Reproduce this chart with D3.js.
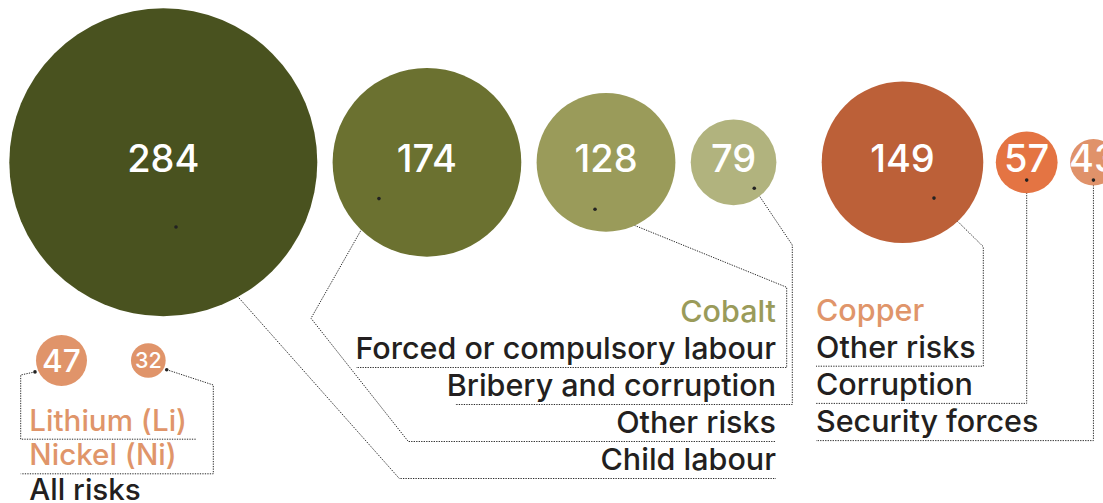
<!DOCTYPE html>
<html>
<head>
<meta charset="utf-8">
<script src="https://cdn.jsdelivr.net/npm/d3@7/dist/d3.min.js"></script>
<style>
  html, body { margin: 0; padding: 0; background: #fff; overflow: hidden; }
  svg { display: block; }
  text { font-family: Inter, "Noto Sans", sans-serif; }
</style>
</head>
<body>
<svg id="chart" width="1103" height="503"></svg>
<script>
// Reported risk counts per mineral (labels in reading order)
const cobaltRisks  = ["Forced or compulsory labour", "Bribery and corruption", "Other risks", "Child labour"];
const cobaltCounts = [128, 79, 174, 284];
const copperRisks  = ["Other risks", "Corruption", "Security forces"];
const copperCounts = [149, 57, 43];
const lnMinerals   = ["Lithium (Li)", "Nickel (Ni)"];
const lnCounts     = [47, 32];
const lnRisk       = "All risks";

// Circle fills, largest circle first within each group
const cobaltFills = ["#49521f", "#6b7130", "#9a9b5a", "#b1b37e"];
const copperFills = ["#bc6038", "#e47443", "#e0926a"];
const lnFill = "#e0946a";
const ink = "#231f20";

const svg = d3.select("#chart");
const gLines = svg.append("g");
const gCircles = svg.append("g");
const gText = svg.append("g");

// Radius grows linearly with the count
const rScale = d3.scaleLinear().domain([0, 284]).range([0, 154]);

// Place circles in a row, left to right, in the given order
function rowLayout(values, x0, gap, cy) {
  let x = x0;
  return values.map(v => {
    const rad = rScale(v);
    const node = { value: v, cx: x + rad, cy, rad };
    x += 2 * rad + gap;
    return node;
  });
}

// order label indices by descending count
const byDesc = counts => d3.range(counts.length).sort((a, b) => counts[b] - counts[a]);

const cobaltOrder = byDesc(cobaltCounts);
const copperOrder = byDesc(copperCounts);

const cobaltNodes = rowLayout(cobaltOrder.map(i => cobaltCounts[i]), 9.3, 15.3, 162.3);
cobaltNodes.forEach((n, k) => { n.label = cobaltOrder[k]; n.fill = cobaltFills[k]; n.fs = 38; n.base = n.cy + 10; });
const copperNodes = rowLayout(copperOrder.map(i => copperCounts[i]), 821.7, 12.5, 162.3);
copperNodes.forEach((n, k) => { n.label = copperOrder[k]; n.fill = copperFills[k]; n.fs = 38; n.base = n.cy + 10; });
const lnNodes = rowLayout(lnCounts, 36, 44, 360.5);
lnNodes.forEach((n, k) => { n.label = k; n.fill = lnFill; n.fs = n.rad * 1.24; n.base = n.cy + n.fs * 0.36; });

// Text blocks
const lineH = 37;

function textBlock(x, y0, step, anchor, fs, items) {
  items.forEach((it, i) => {
    gText.append("text")
      .attr("x", x).attr("y", y0 + i * step)
      .attr("text-anchor", anchor)
      .attr("font-size", fs)
      .attr("font-weight", 500)
      .attr("fill", it.color)
      .text(it.text);
  });
}

const cobaltRight = 776, cobaltTop = 322;
textBlock(cobaltRight, cobaltTop, lineH, "end", 30.5,
  [{ text: "Cobalt", color: "#9a9b5a" }].concat(cobaltRisks.map(t => ({ text: t, color: ink }))));

const copperLeft = 816, copperTop = 320.5;
textBlock(copperLeft, copperTop, 37.2, "start", 30.5,
  [{ text: "Copper", color: "#e0956a" }].concat(copperRisks.map(t => ({ text: t, color: ink }))));

const lnLeft = 29.3, lnTop = 430.7;
textBlock(lnLeft, lnTop, 34.6, "start", 29.6,
  lnMinerals.map(t => ({ text: t, color: "#e0956a" })).concat([{ text: lnRisk, color: ink }]));

// Leader routes: dot offset from circle centre, bend points (null y = underline), end x
const underlineGap = 8.5;
const cobaltLeaders = [
  { dot: [-11, 47],   bends: [[786.7, 287.3]],                  end: 356 },
  { dot: [20.7, 26],  bends: [[792.3, 245]],                    end: 455 },
  { dot: [-48, 36.3], bends: [[311, 318.3], [408.3, null]],     end: cobaltRight },
  { dot: [12.7, 64.7],bends: [[399.3, null]],                   end: cobaltRight }
];
const copperLeaders = [
  { dot: [31.5, 35.8], bends: [[983.3, 246.7]], end: copperLeft },
  { dot: [0, 17.8],    bends: [],               end: copperLeft },
  { dot: [0, 17.8],    bends: [],               end: copperLeft }
];
const lnLeaders = [
  { dot: [-26.5, 11.4], bends: [[20.7, 375]], end: 196.7 },
  { dot: [18.4, 9.2],   bends: [[213.3, 385]], end: 20.7 }
];

const line = d3.line();
function drawLeaders(nodes, leaders, y0, step, firstRow) {
  nodes.forEach(n => {
    const L = leaders[n.label];
    const u = y0 + (n.label + firstRow) * step + underlineGap;
    const start = [n.cx + L.dot[0], n.cy + L.dot[1]];
    const pts = [start].concat(L.bends.map(b => [b[0], b[1] === null ? u : b[1]]));
    const last = pts[pts.length - 1];
    if (last[1] !== u) pts.push([last[0], u]);
    pts.push([L.end, u]);
    gLines.append("path")
      .attr("d", line(pts))
      .attr("fill", "none")
      .attr("stroke", "#2a2a2a")
      .attr("stroke-width", 1)
      .attr("stroke-dasharray", "1.3,1.2");
    n.dot = start;
  });
}
drawLeaders(cobaltNodes, cobaltLeaders, cobaltTop, lineH, 1);
drawLeaders(copperNodes, copperLeaders, copperTop, 37.2, 1);
drawLeaders(lnNodes, lnLeaders, lnTop, 34.6, 0);

const allNodes = cobaltNodes.concat(copperNodes, lnNodes);

// Bubbles
gCircles.selectAll("circle.bubble")
  .data(allNodes)
  .join("circle")
  .attr("class", "bubble")
  .attr("cx", d => d.cx).attr("cy", d => d.cy).attr("r", d => d.rad)
  .attr("fill", d => d.fill);

// Leader dots
gCircles.selectAll("circle.dot")
  .data(allNodes)
  .join("circle")
  .attr("class", "dot")
  .attr("cx", d => d.dot[0]).attr("cy", d => d.dot[1]).attr("r", 1.8)
  .attr("fill", "#222");

// Counts inside the bubbles
gCircles.selectAll("text.count")
  .data(allNodes)
  .join("text")
  .attr("class", "count")
  .attr("x", d => d.cx).attr("y", d => d.base)
  .attr("text-anchor", "middle")
  .attr("font-size", d => d.fs)
  .attr("font-weight", 500)
  .attr("fill", "#fff")
  .text(d => d.value);
</script>
</body>
</html>
